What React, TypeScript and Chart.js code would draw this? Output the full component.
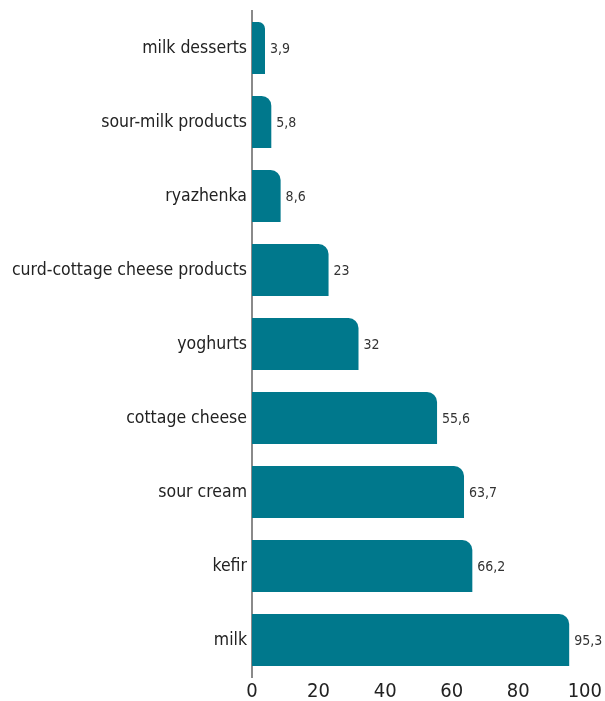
import React, { useEffect, useRef } from "react";
import { Chart, registerables } from "chart.js";

Chart.register(...registerables);

const categories = [
  "milk desserts",
  "sour-milk products",
  "ryazhenka",
  "curd-cottage cheese products",
  "yoghurts",
  "cottage cheese",
  "sour cream",
  "kefir",
  "milk",
];
const values = [3.9, 5.8, 8.6, 23, 32, 55.6, 63.7, 66.2, 95.3];
const xTicks = [0, 20, 40, 60, 80, 100];

const FONT = "'Liberation Sans Narrow', 'DejaVu Sans Condensed', 'Roboto', sans-serif";

const valueLabels = {
  id: "valueLabels",
  afterDatasetsDraw(chart: any) {
    const ctx = chart.ctx;
    const meta = chart.getDatasetMeta(0);
    ctx.save();
    ctx.font = `14px ${FONT}`;
    ctx.fillStyle = "#333333";
    ctx.textAlign = "left";
    ctx.textBaseline = "middle";
    meta.data.forEach((bar: any, i: number) => {
      const txt = String(values[i]).replace(".", ",");
      ctx.fillText(txt, bar.x + 5, bar.y + 1);
    });
    ctx.restore();
  },
};

export default function App() {
  const ref = useRef<HTMLCanvasElement>(null);
  useEffect(() => {
    if (!ref.current) return;
    const chart = new Chart(ref.current, {
      type: "bar",
      data: {
        labels: categories,
        datasets: [
          {
            data: values,
            backgroundColor: "#00788C",
            borderWidth: 0,
            borderSkipped: "left",
            borderRadius: { topLeft: 0, topRight: 10, bottomLeft: 0, bottomRight: 0 },
            categoryPercentage: 0.703,
            barPercentage: 1,
          },
        ],
      },
      options: {
        indexAxis: "y",
        animation: false,
        responsive: false,
        maintainAspectRatio: false,
        layout: { padding: { top: 11, right: 19, left: 0, bottom: 0 } },
        plugins: {
          legend: { display: false },
          tooltip: { enabled: false },
        },
        scales: {
          x: {
            min: 0,
            max: 100,
            afterBuildTicks: (axis: any) => {
              axis.ticks = xTicks.map((v) => ({ value: v }));
            },
            afterFit: (axis: any) => {
              axis.height = 24;
            },
            grid: { display: false, drawTicks: false },
            border: { display: false },
            ticks: {
              padding: 3,
              color: "#222222",
              font: { family: FONT, size: 20 },
            },
          },
          y: {
            afterFit: (axis: any) => {
              axis.width = 252;
            },
            grid: { display: false, drawTicks: false },
            border: { display: true, color: "#8a8a8a", width: 2 },
            ticks: {
              padding: 5,
              color: "#222222",
              font: { family: FONT, size: 17.5, lineHeight: 0.6 },
            },
          },
        },
      },
      plugins: [valueLabels],
    });
    return () => chart.destroy();
  }, []);
  return (
    <div style={{ position: "fixed", left: 0, top: 0, width: 605, height: 701 }}>
      <canvas ref={ref} width={605} height={701} style={{ width: 605, height: 701 }} />
    </div>
  );
}
